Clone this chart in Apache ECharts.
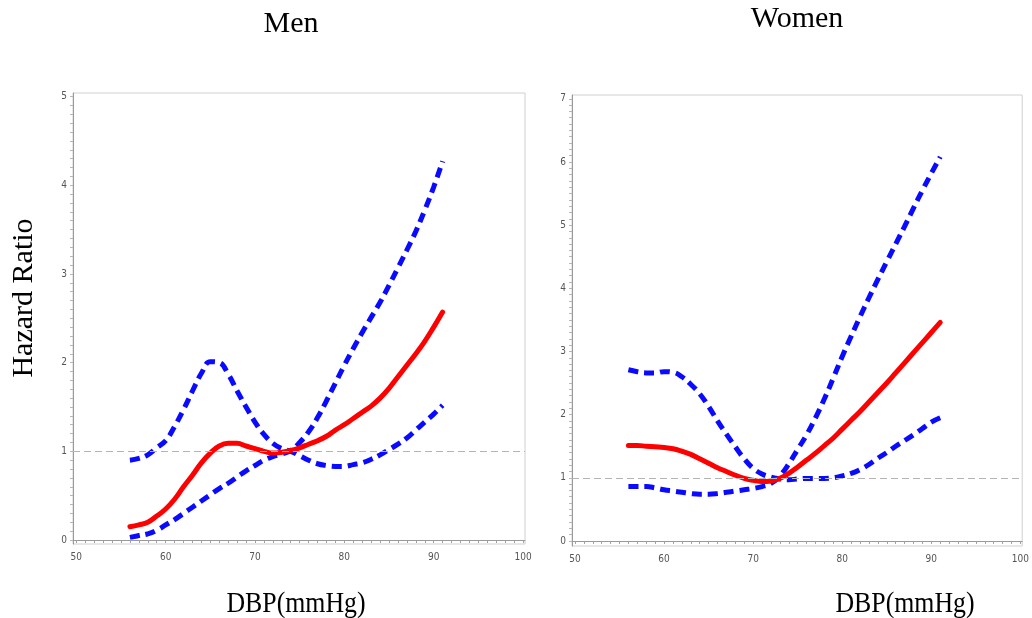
<!DOCTYPE html>
<html>
<head>
<meta charset="utf-8">
<script src="https://cdn.jsdelivr.net/npm/echarts@6/dist/echarts.min.js"></script>
<style>
  html, body { margin: 0; padding: 0; background: #fff; }
  #chart { width: 1032px; height: 618px; }
</style>
</head>
<body>
<div id="chart"></div>
<script>
// Diastolic blood pressure grid (mmHg)
const dbp = [56,57,58,59,60,61,62,63,64,65,66,67,68,69,70,71,72,73,74,75,76,77,78,79,80,81,82,83,84,85,86,87,88,89,90,91];

// Men: hazard ratio and the two confidence-limit curves
const menHR = [0.15,0.17,0.20,0.27,0.35,0.46,0.60,0.73,0.87,0.98,1.06,1.09,1.09,1.06,1.03,1.00,0.98,0.99,1.01,1.04,1.08,1.12,1.17,1.24,1.30,1.37,1.44,1.51,1.60,1.71,1.84,1.97,2.10,2.24,2.40,2.57];
const menLimitA = [0.90,0.92,0.96,1.04,1.12,1.28,1.47,1.68,1.88,2.01,2.00,1.87,1.68,1.50,1.33,1.19,1.09,1.03,1.00,0.95,0.90,0.86,0.84,0.83,0.83,0.85,0.87,0.91,0.96,1.02,1.08,1.15,1.24,1.33,1.42,1.52];
const menLimitB = [0.03,0.05,0.07,0.11,0.17,0.23,0.30,0.37,0.44,0.51,0.58,0.64,0.71,0.78,0.84,0.90,0.94,0.97,1.01,1.10,1.22,1.38,1.57,1.77,1.97,2.16,2.34,2.51,2.68,2.87,3.07,3.27,3.48,3.72,3.98,4.27];

// Women: hazard ratio and the two confidence-limit curves
const womenHR = [1.51,1.51,1.50,1.49,1.48,1.46,1.42,1.37,1.30,1.23,1.16,1.10,1.04,0.99,0.96,0.94,0.95,0.99,1.07,1.17,1.28,1.39,1.51,1.63,1.77,1.91,2.05,2.20,2.35,2.50,2.66,2.82,2.98,3.14,3.30,3.46];
const womenLimitA = [2.71,2.68,2.66,2.66,2.68,2.67,2.60,2.48,2.33,2.13,1.90,1.69,1.49,1.30,1.15,1.06,1.01,0.98,0.97,0.98,0.99,0.99,0.99,1.00,1.03,1.07,1.13,1.21,1.31,1.40,1.50,1.59,1.68,1.78,1.88,1.95];
const womenLimitB = [0.86,0.86,0.86,0.84,0.81,0.79,0.77,0.75,0.74,0.74,0.75,0.77,0.79,0.81,0.83,0.86,0.91,1.03,1.22,1.45,1.68,1.95,2.25,2.58,2.92,3.24,3.55,3.85,4.14,4.42,4.70,4.98,5.27,5.55,5.82,6.08];

// Tick labels
const xTickLabels = [50,60,70,80,90,100];
const menYTickLabels = [0,1,2,3,4,5];
const womenYTickLabels = [0,1,2,3,4,5,6,7];
const referenceHR = 1;

const panelTitles = ['Men', 'Women'];
const xTitle = 'DBP(mmHg)';
const yTitle = 'Hazard Ratio';

function steps(from, to, step) {
  const out = [];
  const n = Math.round((to - from) / step);
  for (let i = 0; i <= n; i++) out.push(+(from + i * step).toFixed(4));
  return out;
}
function pairs(ys) { return dbp.map((x, i) => [x, ys[i]]); }

const tickFont = "'Liberation Sans Narrow', 'DejaVu Sans Condensed', sans-serif";
const serif = "'Liberation Serif', 'DejaVu Serif', serif";

function xAxisFor(gridIndex, min, max) {
  return {
    type: 'value', gridIndex, min, max,
    axisLine: { show: true, lineStyle: { color: '#9a9a9a', width: 1 } },
    axisTick: { show: true, length: 3, lineStyle: { color: '#a0a0a0' }, customValues: steps(50, 100, 1) },
    axisLabel: { customValues: xTickLabels, color: '#555', fontSize: 10, fontFamily: tickFont, margin: 8 },
    splitLine: { show: false }
  };
}
function yAxisFor(gridIndex, min, max, labels) {
  const top = labels[labels.length - 1];
  return {
    type: 'value', gridIndex, min, max,
    axisLine: { show: true, lineStyle: { color: '#9a9a9a', width: 1 } },
    axisTick: { show: true, length: 3, lineStyle: { color: '#b8b8b8' }, customValues: steps(0, top, 0.1) },
    axisLabel: { customValues: labels, color: '#555', fontSize: 10, fontFamily: tickFont, margin: 6 },
    splitLine: { show: false }
  };
}

function panelSeries(idx, hr, a, b) {
  const blue = {
    type: 'line', xAxisIndex: idx, yAxisIndex: idx, smooth: 0.45, showSymbol: false, silent: true,
    lineStyle: { color: '#0a0aff', width: 5, type: [10, 6], cap: 'butt' }, z: 3
  };
  return [
    {
      type: 'line', xAxisIndex: idx, yAxisIndex: idx, data: [], silent: true, z: 1,
      markLine: {
        silent: true, symbol: 'none', label: { show: false },
        lineStyle: { color: '#b4b4b4', width: 1.2, type: [7, 4] },
        data: [{ yAxis: referenceHR }]
      }
    },
    Object.assign({}, blue, { name: 'limitA', data: pairs(a) }),
    Object.assign({}, blue, { name: 'limitB', data: pairs(b) }),
    {
      type: 'line', name: 'HR', xAxisIndex: idx, yAxisIndex: idx, smooth: 0.45, showSymbol: false, silent: true,
      lineStyle: { color: '#ff0000', width: 5, cap: 'round' }, data: pairs(hr), z: 4
    }
  ];
}

const chart = echarts.init(document.getElementById('chart'), null, { renderer: 'canvas' });
chart.setOption({
  animation: false,
  backgroundColor: '#fff',
  grid: [
    { left: 73, top: 93, width: 452, height: 451, show: true, borderColor: '#d0d0d0', borderWidth: 1, backgroundColor: 'transparent' },
    { left: 572, top: 95, width: 458, height: 451, show: true, borderColor: '#d0d0d0', borderWidth: 1, backgroundColor: 'transparent' }
  ],
  xAxis: [ xAxisFor(0, 49.63, 100.22), xAxisFor(1, 49.67, 100.2) ],
  yAxis: [ yAxisFor(0, -0.045, 5.04, menYTickLabels), yAxisFor(1, -0.08, 7.06, womenYTickLabels) ],
  series: [].concat(
    panelSeries(0, menHR, menLimitA, menLimitB),
    panelSeries(1, womenHR, womenLimitA, womenLimitB)
  ),
  graphic: [
    { type: 'text', x: 291, y: 24, style: { text: panelTitles[0], font: '30px ' + serif, fill: '#000', textAlign: 'center', textVerticalAlign: 'middle' } },
    { type: 'text', x: 797, y: 19, style: { text: panelTitles[1], font: '30px ' + serif, fill: '#000', textAlign: 'center', textVerticalAlign: 'middle' } },
    { type: 'text', x: 24, y: 298, rotation: Math.PI / 2, style: { text: yTitle, font: '30px ' + serif, fill: '#000', textAlign: 'center', textVerticalAlign: 'middle' } },
    { type: 'text', x: 296, y: 604, scaleX: 0.86, style: { text: xTitle, font: '30px ' + serif, fill: '#000', textAlign: 'center', textVerticalAlign: 'middle' } },
    { type: 'text', x: 905, y: 604, scaleX: 0.86, style: { text: xTitle, font: '30px ' + serif, fill: '#000', textAlign: 'center', textVerticalAlign: 'middle' } }
  ]
});
</script>
</body>
</html>
